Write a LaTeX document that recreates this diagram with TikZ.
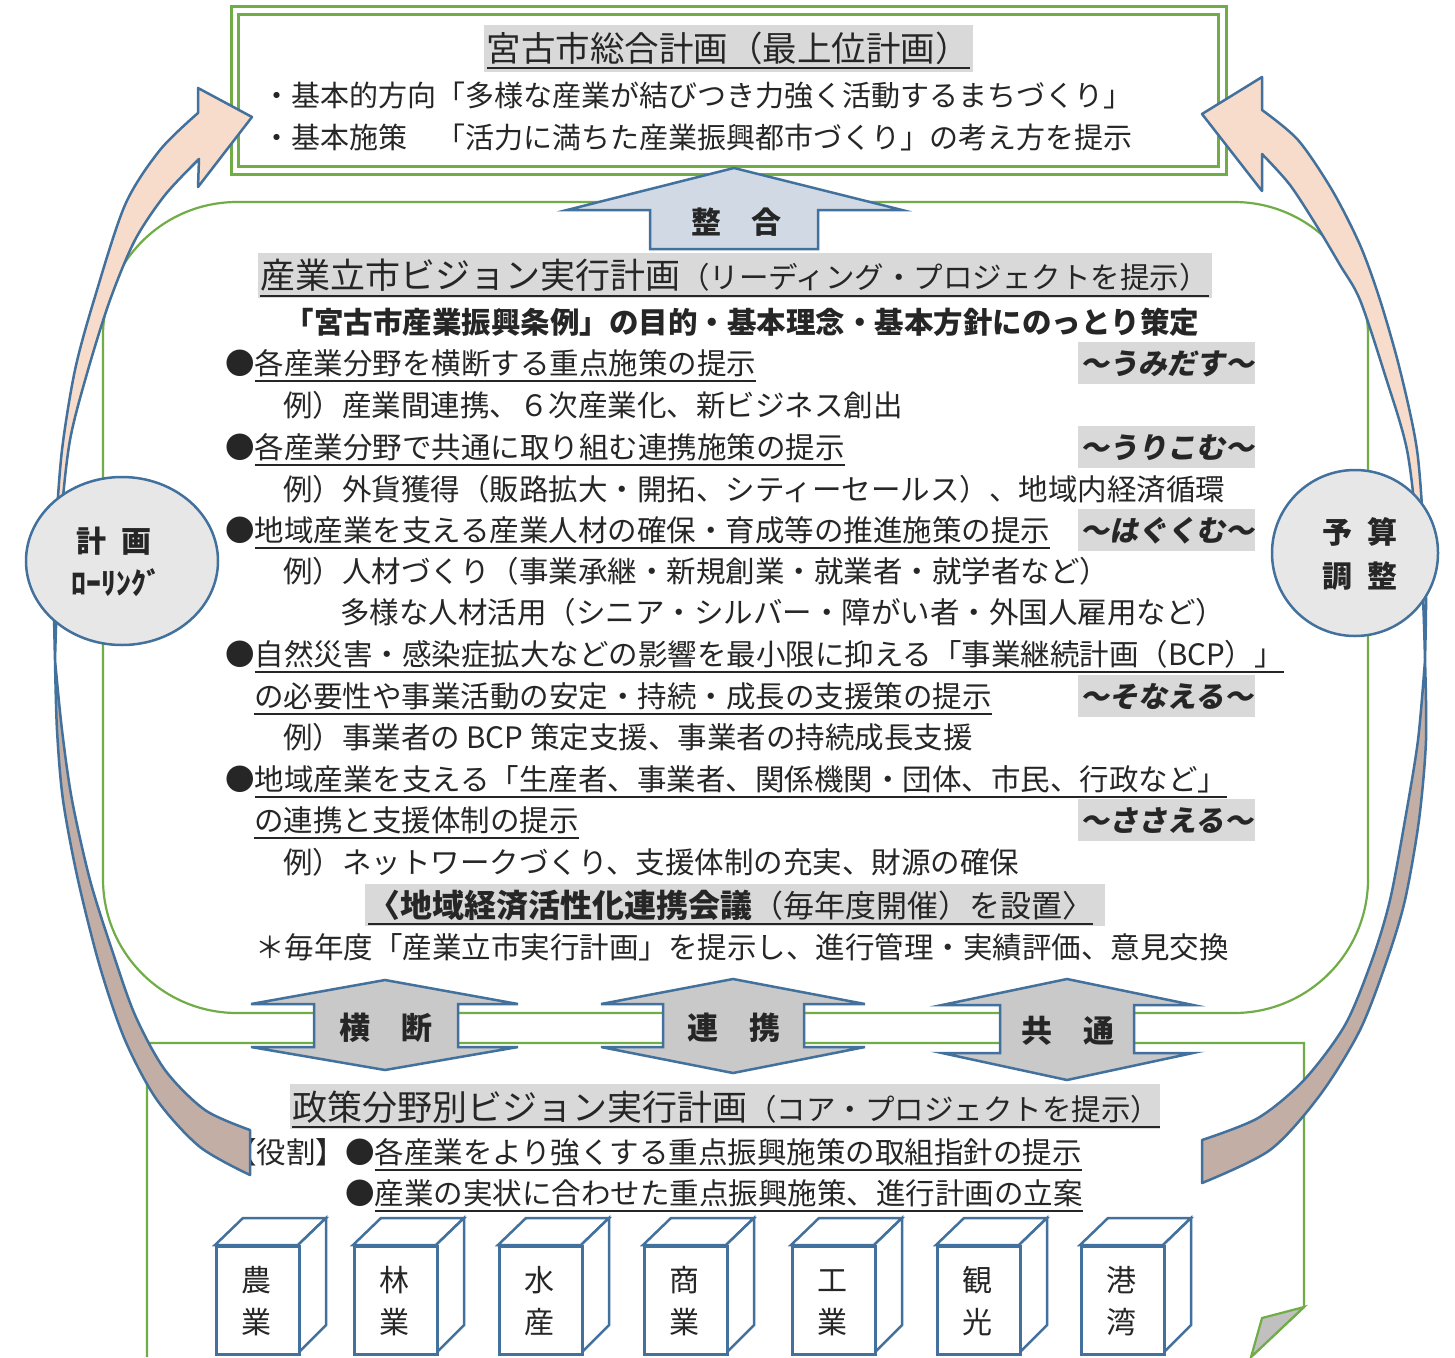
\documentclass[tikz,border=0pt]{standalone}
\usepackage{fontspec}
\setmainfont{Noto Sans CJK JP}
\newfontfamily\slfont[FakeSlant=0.18]{Noto Sans CJK JP}
\usetikzlibrary{shapes.geometric}
\definecolor{gr}{HTML}{70AD47}
\definecolor{bl}{HTML}{41719C}
\definecolor{tc}{HTML}{262626}
\definecolor{bgg}{HTML}{D9D9D9}
\definecolor{peach}{HTML}{F8DCCB}
\definecolor{brn}{HTML}{C3AEA6}
\definecolor{cfill}{HTML}{E7E7E7}
\definecolor{afill}{HTML}{C9C9C9}
\definecolor{ufill}{HTML}{D0D9E4}
\definecolor{foldc}{HTML}{C0C0C0}
\newcommand\fsz[1]{\fontsize{#1}{#1}\selectfont}
\newcommand\bul[4]{%
  \node[t] (#1b) at (#2,#3) {●};
  \node[t] (#1) at (#1b.base east) {#4};
  \draw[ul] ([yshift=-6.5pt]#1.base west) -- ([yshift=-6.5pt]#1.base east);}
\newcommand\cube[4]{%
  \draw[bline, fill=white] (#2,1245) -- (#2+28,1218) -- (#2+111,1218) -- (#2+83,1245) -- cycle;
  \draw[bline, fill=white] (#2+83,1245) -- (#2+111,1218) -- (#2+111,1325) -- (#2+83,1353) -- cycle;
  \node[bline, fill=white, rectangle, minimum width=83pt, minimum height=108pt, anchor=north west] (#1) at (#2,1245) {};
  \node[t, anchor=base, font=\fsz{30}] (#1u) at (#2+41,1291) {#3};
  \node[t, anchor=base, font=\fsz{30}] (#1l) at (#2+41,1333) {#4};}
\begin{document}
\begin{tikzpicture}[x=1pt,y=-1pt,
  t/.style={inner sep=0pt, outer sep=0pt, text=tc, font=\fsz{29.5}, anchor=base west},
  ul/.style={line width=2pt, draw=tc},
  bline/.style={draw=bl, line width=2.5pt, line join=miter},
  arr/.style={draw=bl, line width=2.5pt, line join=round},
  lab/.style={inner sep=0pt, text=tc, font=\slfont\bfseries\fsz{29}, anchor=base}]
\useasboundingbox (0,0) rectangle (1455,1357);
\fill[white] (0,0) rectangle (1455,1357);

% top box
\draw[gr, line width=3pt] (231,6) rectangle (1226,174);
\draw[gr, line width=3pt] (238,14) rectangle (1218,166);
% middle rounded box
\draw[gr, line width=2.2pt, rounded corners=134pt] (103,202) rectangle (1368,1013);
% bottom box
\draw[gr, line width=2.2pt] (147,1357) -- (147,1043) -- (1304,1043) -- (1304,1307) -- (1251,1357);
\filldraw[draw=gr, fill=foldc, line width=2.2pt, line join=miter] (1304,1307) -- (1262,1318) -- (1251,1357) -- cycle;

% ---- top box text
\fill[bgg] (484,25) rectangle (973,72);
\node[t, anchor=base, font=\fsz{34.5}] (t1) at (728,61) {宮古市総合計画（最上位計画）};
\draw[ul] ([yshift=-7pt]t1.base west) -- ([yshift=-7pt]t1.base east);
\node[t, font=\fsz{29}] (t1a) at (262,106) {・基本的方向「多様な産業が結びつき力強く活動するまちづくり」};
\node[t, font=\fsz{29}] (t1b) at (262,148) {・基本施策　「活力に満ちた産業振興都市づくり」の考え方を提示};

% ---- middle text
\fill[bgg] (258,253) rectangle (1212,298);
\node[t] (t2) at (260,288) {{\fsz{35}産業立市ビジョン実行計画}{\fsz{29.5}（リーディング・プロジェクトを提示）}};
\draw[ul] ([yshift=-8pt]t2.base west) -- ([yshift=-8pt]t2.base east);
\node[t, anchor=base, font=\fsz{29.5}\bfseries] (t3) at (742,333) {「宮古市産業振興条例」の目的・基本理念・基本方針にのっとり策定};

\bul{p1}{225}{374}{各産業分野を横断する重点施策の提示}
\node[t] (e1) at (283,416) {例）産業間連携、６次産業化、新ビジネス創出};
\bul{p2}{225}{458}{各産業分野で共通に取り組む連携施策の提示}
\node[t] (e2) at (283,500) {例）外貨獲得（販路拡大・開拓、シティーセールス）、地域内経済循環};
\bul{p3}{225}{541}{地域産業を支える産業人材の確保・育成等の推進施策の提示}
\node[t] (e3) at (283,582) {例）人材づくり（事業承継・新規創業・就業者・就学者など）};
\node[t] (e3b) at (340,623) {多様な人材活用（シニア・シルバー・障がい者・外国人雇用など）};
\bul{p4}{225}{665}{自然災害・感染症拡大などの影響を最小限に抑える「事業継続計画（BCP）」}
\node[t] (p4c) at (254,707) {の必要性や事業活動の安定・持続・成長の支援策の提示};
\draw[ul] ([yshift=-6.5pt]p4c.base west) -- ([yshift=-6.5pt]p4c.base east);
\node[t] (e4) at (283,748) {例）事業者の BCP 策定支援、事業者の持続成長支援};
\bul{p5}{225}{790}{地域産業を支える「生産者、事業者、関係機関・団体、市民、行政など」}
\node[t] (p5c) at (254,831) {の連携と支援体制の提示};
\draw[ul] ([yshift=-6.5pt]p5c.base west) -- ([yshift=-6.5pt]p5c.base east);
\node[t] (e5) at (283,873) {例）ネットワークづくり、支援体制の充実、財源の確保};
\fill[bgg] (365,884) rectangle (1105,926);
\node[t] (cc) at (368,917) {{\bfseries\fsz{32}〈地域経済活性化連携会議}{\fsz{31}（毎年度開催）を設置〉}};
\draw[ul] ([yshift=-7pt]cc.base west) -- ([yshift=-7pt]cc.base east);
\node[t] (nt) at (255,958) {＊毎年度「産業立市実行計画」を提示し、進行管理・実績評価、意見交換};

% labels
\foreach \yy/\ss/\nn in {363/～うみだす～/l1, 447/～うりこむ～/l2, 530/～はぐくむ～/l3, 696/～そなえる～/l4, 820/～ささえる～/l5}{
  \fill[bgg] (1078,{\yy-21}) rectangle (1255,{\yy+21});
  \node[lab] (\nn) at (1167,{\yy+11}) {\ss};
}

% ---- bottom text
\fill[bgg] (290,1084) rectangle (1160,1129);
\node[t] (t4) at (292,1120) {{\fsz{35}政策分野別ビジョン実行計画}{\fsz{29.5}（コア・プロジェクトを提示）}};
\draw[ul] ([yshift=-7pt]t4.base west) -- ([yshift=-7pt]t4.base east);
\node[t, anchor=base east] (yk) at (345,1163) {【役割】};
\bul{r1}{345}{1163}{各産業をより強くする重点振興施策の取組指針の提示}
\bul{r2}{345}{1204}{産業の実状に合わせた重点振興施策、進行計画の立案}

% ---- curved arrows
\filldraw[arr, fill=brn] (55,660) -- plot[smooth] coordinates {(55,660) (57,730) (63,800) (78,880) (100,967) (125,1040) (157,1100) (200,1147) (250,1175)} -- (250,1130) -- plot[smooth] coordinates {(250,1130) (205,1110) (165,1070) (135,1015) (112,950) (90,880) (72,800) (62,730) (55,660)} -- cycle;
\filldraw[arr, fill=peach] (198,113) -- (198,88) -- (252,117) -- (198,187) -- (199,159) -- plot[smooth] coordinates {(199,159) (165,195) (135,240) (110,300) (88,370) (70,440) (61,520) (57,600) (55,660)} -- plot[smooth] coordinates {(55,660) (54,600) (56,530) (62,450) (75,370) (94,300) (125,205) (160,150) (198,113)} -- cycle;

\filldraw[arr, fill=brn] (1425,660) -- plot[smooth] coordinates {(1425,660) (1426,740) (1419,820) (1405,900) (1387,960) (1360,1030) (1320,1095) (1270,1150) (1202,1183)} -- (1202,1140) -- plot[smooth] coordinates {(1202,1140) (1258,1118) (1304,1080) (1345,1025) (1372,960) (1390,900) (1405,820) (1418,740) (1425,660)} -- cycle;
\filldraw[arr, fill=peach] (1262,110) -- (1262,77) -- (1202,114) -- (1262,191) -- (1262,154) -- plot[smooth] coordinates {(1262,154) (1290,185) (1318,228) (1340,265) (1360,300) (1385,375) (1407,450) (1418,540) (1423,600) (1425,660)} -- plot[smooth] coordinates {(1425,660) (1426,600) (1424,540) (1417,450) (1400,370) (1380,300) (1360,245) (1332,190) (1298,140) (1262,110)} -- cycle;

% circles
\node[ellipse, draw=bl, line width=2.5pt, fill=cfill, minimum width=192pt, minimum height=168pt, inner sep=0pt] (cl) at (122,561) {};
\node[t, anchor=base, font=\fsz{30}\bfseries] (cl1) at (114,552) {計\hspace{0.5em}画};
\node[t, anchor=base, font=\fsz{30}\bfseries] (cl2) at (116,594) {ﾛｰﾘﾝｸﾞ};
\node[circle, draw=bl, line width=2.5pt, fill=cfill, minimum size=166pt, inner sep=0pt] (cr) at (1355,553) {};
\node[t, anchor=base, font=\fsz{30}\bfseries] (cr1) at (1360,543) {予\hspace{0.5em}算};
\node[t, anchor=base, font=\fsz{30}\bfseries] (cr2) at (1360,587) {調\hspace{0.5em}整};

% up arrow
\filldraw[bline, fill=ufill] (734,168) -- (902,210) -- (818,210) -- (818,249) -- (650,249) -- (650,210) -- (567,210) -- cycle;
\node[t, anchor=base, font=\fsz{30}\bfseries] (ug) at (736,233) {整　合};

% double arrows
\filldraw[bline, fill=afill] (385,980) -- (518,1004) -- (458,1004) -- (458,1047) -- (518,1047) -- (385,1070) -- (251,1047) -- (314,1047) -- (314,1004) -- (251,1004) -- cycle;
\node[t, anchor=base, font=\fsz{31}\bfseries] (d1) at (386,1039) {横　断};
\filldraw[bline, fill=afill] (733,979) -- (865,1004) -- (804,1004) -- (804,1047) -- (865,1047) -- (733,1073) -- (601,1047) -- (663,1047) -- (663,1004) -- (601,1004) -- cycle;
\node[t, anchor=base, font=\fsz{31}\bfseries] (d2) at (734,1039) {連　携};
\filldraw[bline, fill=afill] (1067,979) -- (1193,1005) -- (1134,1005) -- (1134,1053) -- (1193,1053) -- (1067,1080) -- (942,1053) -- (1000,1053) -- (1000,1005) -- (942,1005) -- cycle;
\node[t, anchor=base, font=\fsz{31}\bfseries] (d3) at (1068,1042) {共　通};

% cubes
\cube{c1}{215}{農}{業}
\cube{c2}{353}{林}{業}
\cube{c3}{498}{水}{産}
\cube{c4}{643}{商}{業}
\cube{c5}{791}{工}{業}
\cube{c6}{936}{観}{光}
\cube{c7}{1080}{港}{湾}
\end{tikzpicture}
\end{document}
